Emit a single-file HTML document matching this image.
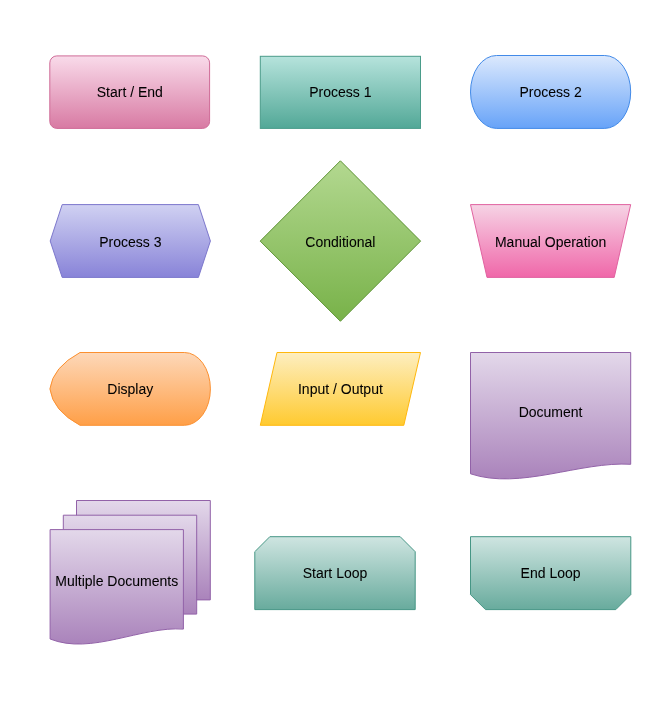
<!DOCTYPE html>
<html><head><meta charset="utf-8"><style>
html,body{margin:0;padding:0;background:#fff;}
svg{display:block;}
text{font-family:"Liberation Sans",sans-serif;font-size:14px;fill:#000;text-anchor:middle;stroke:#000;stroke-width:0.06px;}
</style></head><body>
<svg width="669" height="704" viewBox="0 0 669 704">
<defs><linearGradient id="g_se" x1="0" y1="0" x2="0" y2="1"><stop offset="0" stop-color="#f9dbea"/><stop offset="1" stop-color="#d87aa3"/></linearGradient><linearGradient id="g_p1" x1="0" y1="0" x2="0" y2="1"><stop offset="0" stop-color="#b6e3dc"/><stop offset="1" stop-color="#52a897"/></linearGradient><linearGradient id="g_p2" x1="0" y1="0" x2="0" y2="1"><stop offset="0" stop-color="#dce9fd"/><stop offset="1" stop-color="#67a3f8"/></linearGradient><linearGradient id="g_p3" x1="0" y1="0" x2="0" y2="1"><stop offset="0" stop-color="#d0d1f2"/><stop offset="1" stop-color="#8883d8"/></linearGradient><linearGradient id="g_cond" x1="0" y1="0" x2="0" y2="1"><stop offset="0" stop-color="#b3d890"/><stop offset="1" stop-color="#78b249"/></linearGradient><linearGradient id="g_man" x1="0" y1="0" x2="0" y2="1"><stop offset="0" stop-color="#f6d3e5"/><stop offset="1" stop-color="#f067a9"/></linearGradient><linearGradient id="g_disp" x1="0" y1="0" x2="0" y2="1"><stop offset="0" stop-color="#fdd8b9"/><stop offset="1" stop-color="#ff9f47"/></linearGradient><linearGradient id="g_io" x1="0" y1="0" x2="0" y2="1"><stop offset="0" stop-color="#fdeec0"/><stop offset="1" stop-color="#ffca30"/></linearGradient><linearGradient id="g_doc" x1="0" y1="0" x2="0" y2="1"><stop offset="0" stop-color="#e3d8ea"/><stop offset="1" stop-color="#aa83bb"/></linearGradient><linearGradient id="g_loop" x1="0" y1="0" x2="0" y2="1"><stop offset="0" stop-color="#cfe5e1"/><stop offset="1" stop-color="#68ab9d"/></linearGradient></defs>
<rect x="49.8" y="55.9" width="159.8" height="72.5" rx="7" ry="7" fill="url(#g_se)" stroke="#cf6b97" stroke-width="1.0"/><rect x="260.3" y="56.3" width="160.2" height="72.10000000000001" fill="url(#g_p1)" stroke="#4a9c8a" stroke-width="1.0"/><path d="M496.5,55.5 H604.7 A26,36.45 0 0 1 604.7,128.4 H496.5 A26,36.45 0 0 1 496.5,55.5 Z" fill="url(#g_p2)" stroke="#428ae8" stroke-width="1.0"/><path d="M62.2,204.6 H198.39999999999998 L210.39999999999998,241.0 L198.39999999999998,277.4 H62.2 L50.2,241.0 Z" fill="url(#g_p3)" stroke="#7c77cc" stroke-width="1.0"/><path d="M340.4,160.8 L420.59999999999997,241.1 L340.4,321.3 L260.2,241.1 Z" fill="url(#g_cond)" stroke="#5e9435" stroke-width="1.0"/><path d="M470.5,204.6 H630.7 L614.2,277.4 H487.0 Z" fill="url(#g_man)" stroke="#e063a0" stroke-width="1.0"/><path d="M49.9,388.9 Q52.8,367.09999999999997 80.0,352.5 H184.39999999999998 A26,36.400000000000006 0 0 1 210.39999999999998,388.9 A26,36.400000000000006 0 0 1 184.39999999999998,425.3 H80.0 Q52.8,410.7 49.9,388.9 Z" fill="url(#g_disp)" stroke="#fb9030" stroke-width="1.0"/><path d="M277.0,352.5 H420.5 L403.8,425.3 H260.3 Z" fill="url(#g_io)" stroke="#ffb80d" stroke-width="1.0"/><path d="M470.5,352.5 H630.7 V464.3 C580.00,461.20 520.00,490.30 470.5,473.8 Z" fill="url(#g_doc)" stroke="#9262a8" stroke-width="1.0"/><path d="M76.5,500.5 H210.3 V599.9 H76.5 Z" fill="url(#g_doc)" stroke="#9262a8" stroke-width="1.0"/><path d="M63.3,515.2 H196.7 V614.1 H63.3 Z" fill="url(#g_doc)" stroke="#9262a8" stroke-width="1.0"/><path d="M50.1,529.6 H183.4 V629.1 C141.21,626.00 91.29,655.50 50.1,639.0 Z" fill="url(#g_doc)" stroke="#9262a8" stroke-width="1.0"/><path d="M269.8,536.7 H400.2 L415.2,551.7 V609.6 H254.8 V551.7 Z" fill="url(#g_loop)" stroke="#469685" stroke-width="1.0"/><path d="M470.5,536.7 H630.8 V594.6 L615.8,609.6 H485.5 L470.5,594.6 Z" fill="url(#g_loop)" stroke="#469685" stroke-width="1.0"/>
<g style="will-change:transform"><text x="129.8" y="97.4">Start / End</text><text x="340.4" y="97.4">Process 1</text><text x="550.6" y="97.4">Process 2</text><text x="130.3" y="246.9">Process 3</text><text x="340.4" y="246.9">Conditional</text><text x="550.6" y="246.9">Manual Operation</text><text x="130.3" y="394.4">Display</text><text x="340.4" y="394.4">Input / Output</text><text x="550.6" y="417.0">Document</text><text x="116.7" y="586.4">Multiple Documents</text><text x="335" y="578.2">Start Loop</text><text x="550.6" y="578.2">End Loop</text></g>
</svg>
</body></html>
